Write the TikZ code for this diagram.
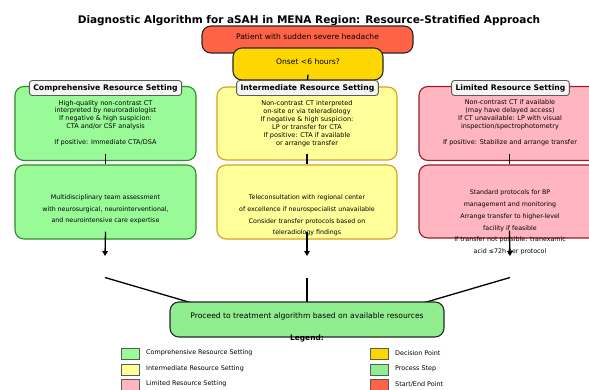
\documentclass[tikz,border=0pt]{standalone}
\usepackage{fontspec}
\setmainfont{DejaVu Sans}
\usetikzlibrary{arrows.meta}
\definecolor{compfill}{HTML}{98FB98}
\definecolor{compedge}{HTML}{2E8B2E}
\definecolor{intfill}{HTML}{FFFF99}
\definecolor{intedge}{HTML}{D4A020}
\definecolor{limfill}{HTML}{FFB6C1}
\definecolor{limedge}{HTML}{9B1C24}
\definecolor{decfill}{HTML}{FFD700}
\definecolor{procfill}{HTML}{90EE90}
\definecolor{startfill}{HTML}{FF6347}
\definecolor{edgedark}{HTML}{262626}
\definecolor{labfill}{HTML}{F5F5F5}
\definecolor{labedge}{HTML}{5A5A5A}
\tikzset{
  box/.style={draw, rounded corners=9pt, line width=1.1pt, inner sep=0pt},
  compbox/.style={box, fill=compfill, draw=compedge, minimum width=181pt},
  intbox/.style={box, fill=intfill, draw=intedge, minimum width=180pt},
  limbox/.style={box, fill=limfill, draw=limedge, minimum width=181pt},
  labbox/.style={draw=labedge, fill=labfill, rounded corners=3pt, line width=0.9pt,
    minimum height=15pt, inner xsep=4pt, inner ysep=0pt,
    font=\fontsize{7.7}{8.5}\selectfont\bfseries},
  uptext/.style={align=center, inner sep=0pt, font=\fontsize{6.5}{7.9}\selectfont},
  lowtext/.style={align=center, inner sep=0pt, font=\fontsize{6.3}{11.7}\selectfont},
  conn/.style={line width=1.3pt, black},
  arr/.style={conn, -{Triangle[length=5pt,width=5.5pt]}},
  swatch/.style={draw=labedge, line width=0.6pt, minimum width=18pt, minimum height=11pt, inner sep=0pt},
  legtext/.style={anchor=west, inner sep=0pt, font=\fontsize{6.4}{7}\selectfont}
}
\begin{document}
\begin{tikzpicture}[x=1pt,y=-1pt]
\useasboundingbox (0,0) rectangle (589,389);
\clip (0,0) rectangle (589,389);

% title
\node[font=\fontsize{10.5}{12}\selectfont\bfseries, inner sep=0pt] (title) at (309,21)
  {Diagnostic Algorithm for aSAH in MENA Region: Resource-Stratified Approach};

% start and decision
\node[box, fill=startfill, draw=edgedark, minimum width=211pt, minimum height=27pt] (start) at (307.5,39.5) {};
\node[font=\fontsize{7.6}{8}\selectfont, inner sep=0pt] (starttxt) at (307.5,37) {Patient with sudden severe headache};
\node[box, fill=decfill, draw=edgedark, minimum width=150pt, minimum height=32pt] (onset) at (308,64) {};
\node[font=\fontsize{7.6}{8}\selectfont, inner sep=0pt] (onsettxt) at (308,62) {Onset <6 hours?};

% upper boxes
\node[compbox, minimum height=74pt] (cu) at (105.5,123.5) {};
\node[intbox, minimum height=73pt] (iu) at (307,123.5) {};
\node[limbox, minimum height=74pt] (lu) at (509.5,123.5) {};

% lower boxes
\node[compbox, minimum height=74pt] (cl) at (105.5,202) {};
\node[intbox, minimum height=74pt] (il) at (307,202) {};
\node[limbox, minimum height=73pt] (ll) at (509.5,201.5) {};

% texts upper
\node[uptext] (cut) at (105.5,123) {High-quality non-contrast CT\\interpreted by neuroradiologist\\If negative \& high suspicion:\\CTA and/or CSF analysis\\[7.9pt]If positive: Immediate CTA/DSA};
\node[uptext] (iut) at (307,123.5) {Non-contrast CT interpreted\\on-site or via teleradiology\\If negative \& high suspicion:\\LP or transfer for CTA\\If positive: CTA if available\\or arrange transfer};
\node[uptext] (lut) at (510,122.5) {Non-contrast CT if available\\(may have delayed access)\\If CT unavailable: LP with visual\\inspection/spectrophotometry\\[7.9pt]If positive: Stabilize and arrange transfer};

% texts lower
\node[lowtext] (clt) at (105.5,209.5) {Multidisciplinary team assessment\\with neurosurgical, neurointerventional,\\and neurointensive care expertise};
\node[lowtext] (ilt) at (307,215.5) {Teleconsultation with regional center\\of excellence if neurospecialist unavailable\\Consider transfer protocols based on\\teleradiology findings};
\node[lowtext] (llt) at (510,222.5) {Standard protocols for BP\\management and monitoring\\Arrange transfer to higher-level\\facility if feasible\\If transfer not possible: tranexamic\\acid ≤72h per protocol};

% connectors
\draw[conn] (onset.south) ++(0,-6) -- (iu.north);
\draw[conn] (cu.south) ++(0,-7) -- (cl.north);
\draw[conn] (iu.south) ++(0,-7) -- (il.north);
\draw[conn] (lu.south) ++(0,-7) -- (ll.north);

% setting labels
\node[labbox] (labC) at (105.5,88) {Comprehensive Resource Setting};
\node[labbox] (labI) at (307.5,88) {Intermediate Resource Setting};
\node[labbox] (labL) at (510.5,88) {Limited Resource Setting};

% arrows down
\coordinate (aC) at (105,256);
\coordinate (aI) at (307,256);
\coordinate (aL) at (510,256);
\draw[arr] (cl.south) ++(0,-8) -- (aC);
\draw[arr] (il.south) ++(0,-8) -- (aI);
\draw[arr] (ll.south) ++(0,-8) -- (aL);

% converging lines
\coordinate (sC) at (105,277.5);
\coordinate (sI) at (307,278);
\coordinate (sL) at (510,277.5);
\coordinate (fC) at (192,303);
\coordinate (fI) at (307,303);
\coordinate (fL) at (423,303);
\draw[conn] (sC) -- (fC);
\draw[conn] (sI) -- (fI);
\draw[conn] (sL) -- (fL);

% final
\node[box, fill=procfill, draw=edgedark, minimum width=274pt, minimum height=35pt] (final) at (307,319.5) {};
\node[font=\fontsize{7.6}{8}\selectfont, inner sep=0pt] (finaltxt) at (307,316.5) {Proceed to treatment algorithm based on available resources};

% legend
\node[font=\fontsize{7.4}{8}\selectfont\bfseries, inner sep=0pt] (legend) at (307,338.5) {Legend:};
\node[swatch, fill=compfill] (s1) at (130,354) {};
\node[swatch, fill=intfill] (s2) at (130,369.5) {};
\node[swatch, fill=limfill] (s3) at (130,385) {};
\node[legtext] (t1) at (146,353) {Comprehensive Resource Setting};
\node[legtext] (t2) at (146,368.5) {Intermediate Resource Setting};
\node[legtext] (t3) at (146,384) {Limited Resource Setting};
\node[swatch, fill=decfill] (s4) at (379,354) {};
\node[swatch, fill=procfill] (s5) at (379,369.5) {};
\node[swatch, fill=startfill] (s6) at (379,385) {};
\node[legtext] (t4) at (395,353) {Decision Point};
\node[legtext] (t5) at (395,368.5) {Process Step};
\node[legtext] (t6) at (395,384) {Start/End Point};
\end{tikzpicture}
\end{document}
